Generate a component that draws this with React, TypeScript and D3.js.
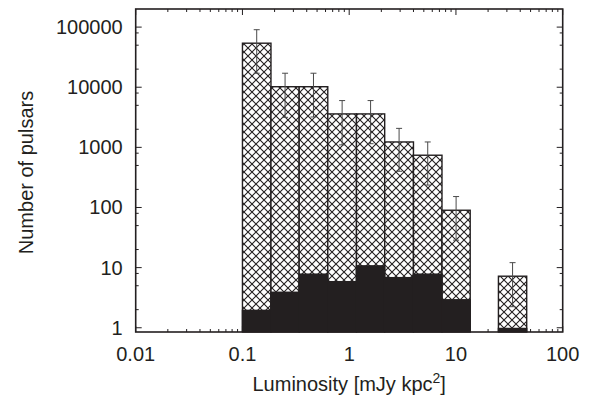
import React, { useEffect } from "react";
import * as d3 from "d3";

// luminosity bin edges (mJy kpc^2)
const binEdges = [0.1, 0.185, 0.34, 0.63, 1.17, 2.15, 4.0, 7.4, 13.6, 25, 46];
// hatched: all pulsars, black: detected
const allCounts = [54000, 10200, 10200, 3600, 3600, 1230, 740, 90, 0, 7.2];
const errUpper = [90500, 17100, 17100, 6000, 6000, 2070, 1230, 152, 0, 12.1];
const errLower = [17100, 3160, 3200, 1100, 1150, 400, 236, 28.6, 0, 2.24];
const detectedCounts = [2, 4, 8, 6, 11, 7, 8, 3, 0, 1];

const xTicks = [0.01, 0.1, 1, 10, 100];
const xTickLabels = ["0.01", "0.1", "1", "10", "100"];
const yTicks = [1, 10, 100, 1000, 10000, 100000];
const yTickLabels = ["1", "10", "100", "1000", "10000", "100000"];

const INK = "#231f20";
const FONT = "'Liberation Sans', Arial, Helvetica, sans-serif";

const App: React.FC = () => {
  useEffect(() => {
    document.body.style.margin = "0";
  }, []);

  const W = 593;
  const H = 399;
  const left = 135.7;
  const right = 562.7;
  const top = 9;
  const bottom = 332;

  const x = d3.scaleLog().domain([0.01, 100]).range([left, right]);
  const y = d3.scaleLog().domain([0.85, 200000]).range([bottom, top]);

  // minor ticks: x at 2..9 per decade, y at 2,5,8 per decade
  const xMinor: number[] = [];
  for (let e = -2; e < 2; e++) {
    for (let m = 2; m <= 9; m++) xMinor.push(m * Math.pow(10, e));
  }
  const yMinor: number[] = [];
  for (let e = 0; e < 6; e++) {
    for (const m of [2, 5, 8]) {
      const v = m * Math.pow(10, e);
      if (v < 200000) yMinor.push(v);
    }
  }

  const bins = allCounts.map((c, i) => ({
    x0: binEdges[i],
    x1: binEdges[i + 1],
    total: c,
    det: detectedCounts[i],
    hi: errUpper[i],
    lo: errLower[i],
  }));

  return (
    <svg width={W} height={H} style={{ display: "block" }} fontFamily={FONT}>
      <defs>
        <pattern id="xhatch" patternUnits="userSpaceOnUse" width="8" height="8">
          <rect width="8" height="8" fill="#fff" />
          <path d="M0,0L8,8M8,0L0,8" stroke={INK} strokeWidth={1.1} />
        </pattern>
      </defs>

      {/* ticks (inward, mirrored) */}
      <g stroke={INK} strokeWidth={1}>
        {xMinor.map((v) => (
          <g key={"xm" + v}>
            <line x1={x(v)} x2={x(v)} y1={bottom} y2={bottom - 3} />
            <line x1={x(v)} x2={x(v)} y1={top} y2={top + 3} />
          </g>
        ))}
        {xTicks.map((v) => (
          <g key={"xM" + v}>
            <line x1={x(v)} x2={x(v)} y1={bottom} y2={bottom - 6} />
            <line x1={x(v)} x2={x(v)} y1={top} y2={top + 6} />
          </g>
        ))}
        {yMinor.map((v) => (
          <g key={"ym" + v}>
            <line x1={left} x2={left + 3} y1={y(v)} y2={y(v)} />
            <line x1={right} x2={right - 3} y1={y(v)} y2={y(v)} />
          </g>
        ))}
        {yTicks.map((v) => (
          <g key={"yM" + v}>
            <line x1={left} x2={left + 6} y1={y(v)} y2={y(v)} />
            <line x1={right} x2={right - 6} y1={y(v)} y2={y(v)} />
          </g>
        ))}
      </g>

      {/* hatched bars */}
      {bins
        .filter((b) => b.total > 0)
        .map((b, i) => (
          <rect
            key={"h" + i}
            x={x(b.x0)}
            width={x(b.x1) - x(b.x0)}
            y={y(b.total)}
            height={bottom - y(b.total)}
            fill="url(#xhatch)"
            stroke={INK}
            strokeWidth={1.4}
          />
        ))}

      {/* detected bars */}
      {bins
        .filter((b) => b.det > 0)
        .map((b, i) => (
          <rect
            key={"d" + i}
            x={x(b.x0) - 0.7}
            width={x(b.x1) - x(b.x0) + 1.4}
            y={y(b.det)}
            height={bottom - y(b.det)}
            fill={INK}
          />
        ))}

      {/* error bars */}
      <g stroke="#4a4a4a" strokeWidth={1}>
        {bins
          .filter((b) => b.total > 0)
          .map((b, i) => {
            const cx = x(Math.sqrt(b.x0 * b.x1));
            return (
              <g key={"e" + i}>
                <line x1={cx} x2={cx} y1={y(b.hi)} y2={y(b.lo)} />
                <line x1={cx - 3} x2={cx + 3} y1={y(b.hi)} y2={y(b.hi)} />
                <line x1={cx - 3} x2={cx + 3} y1={y(b.lo)} y2={y(b.lo)} />
              </g>
            );
          })}
      </g>

      {/* frame */}
      <rect
        x={left}
        y={top}
        width={right - left}
        height={bottom - top}
        fill="none"
        stroke={INK}
        strokeWidth={1.6}
      />

      {/* tick labels */}
      <g fill={INK} fontSize={20}>
        {yTicks.map((v, i) => (
          <text key={"yl" + v} x={left - 13} y={y(v) + 7} textAnchor="end">
            {yTickLabels[i]}
          </text>
        ))}
        {xTicks.map((v, i) => (
          <text key={"xl" + v} x={x(v)} y={361} textAnchor="middle">
            {xTickLabels[i]}
          </text>
        ))}
      </g>

      {/* axis labels */}
      <text
        x={(left + right) / 2}
        y={391}
        textAnchor="middle"
        fontSize={20}
        fill={INK}
      >
        Luminosity [mJy kpc
        <tspan fontSize={14} dy={-8}>
          2
        </tspan>
        <tspan dy={8}>]</tspan>
      </text>
      <text
        transform={`translate(32.5, ${(top + bottom) / 2 + 2}) rotate(-90)`}
        textAnchor="middle"
        fontSize={20}
        fill={INK}
      >
        Number of pulsars
      </text>
    </svg>
  );
};

export default App;
